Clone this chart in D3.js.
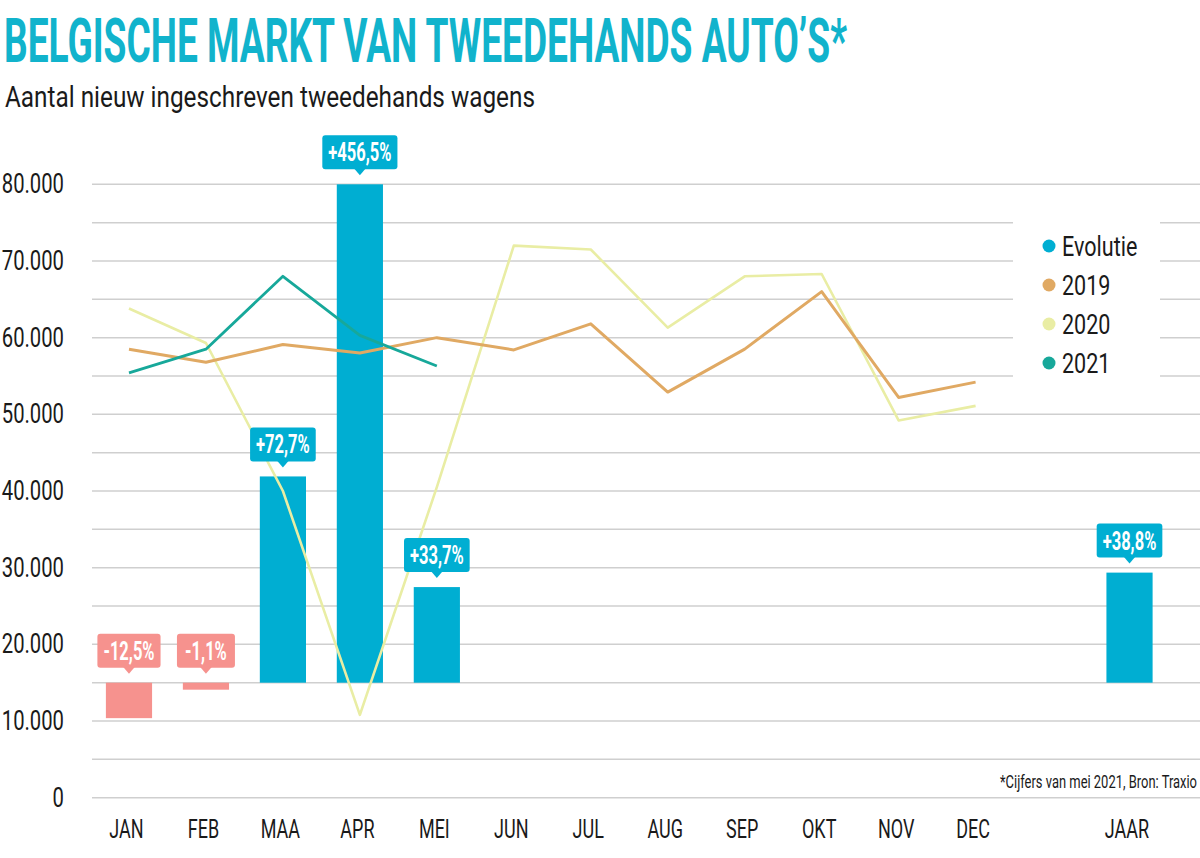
<!DOCTYPE html>
<html lang="nl">
<head>
<meta charset="utf-8">
<title>Belgische markt van tweedehands auto's</title>
<script src="https://cdn.jsdelivr.net/npm/d3@7/dist/d3.min.js"></script>
<style>
  html, body { margin: 0; padding: 0; background: #fff; }
  svg { display: block; }
</style>
</head>
<body>
<div id="chart"></div>
<script>
// --- data ---
const months = ["JAN", "FEB", "MAA", "APR", "MEI", "JUN", "JUL", "AUG", "SEP", "OKT", "NOV", "DEC"];
const slots = months.concat([" ", "JAAR"]); // empty slot between DEC and JAAR
const sales2019 = [58500, 56800, 59100, 58000, 60000, 58400, 61800, 52900, 58500, 66000, 52200, 54200];
const sales2020 = [63800, 59300, 40000, 10800, 40500, 72000, 71500, 61300, 68000, 68300, 49200, 51100];
const sales2021 = [55400, 58500, 68000, 60300, 56300];
const evoCats = ["JAN", "FEB", "MAA", "APR", "MEI", "JAAR"];
const evoValues = [-12.5, -1.1, 72.7, 456.5, 33.7, 38.8];
const yTicks = [0, 10000, 20000, 30000, 40000, 50000, 60000, 70000, 80000];
const legendLabels = ["Evolutie", "2019", "2020", "2021"];

(function () {
  const W = 1200, H = 858;
  const FONT = "Roboto, 'Open Sans', Arial, sans-serif";

  // --- colours ---
  const BLUE = "#00aed2";
  const PINK = "#f6928e";
  const C2019 = "#e0a963";
  const C2020 = "#e9eda4";
  const C2021 = "#17a89a";
  const GRID = "#cfcfcf";
  const INK = "#1a1a1a";
  const legendColors = [BLUE, C2019, C2020, C2021];

  const nl = d3.formatLocale({ decimal: ",", thousands: ".", grouping: [3], currency: ["€", ""], minus: "-" });
  const fmt = nl.format(",");
  const pct = (v) => (v > 0 ? "+" : "") + nl.format(".1f")(v) + "%";

  // squeeze text horizontally so it looks like the condensed face of the original
  const condense = (sel, k) =>
    sel.each(function () {
      const w = this.getComputedTextLength();
      d3.select(this).attr("textLength", w * k).attr("lengthAdjust", "spacingAndGlyphs");
    });

  const svg = d3.select("#chart").append("svg")
    .attr("width", W).attr("height", H)
    .style("font-family", FONT);

  svg.append("rect").attr("width", W).attr("height", H).attr("fill", "#fff");

  // --- scales ---
  const x = d3.scalePoint().domain(slots).range([90.5, 1168]).padding(0.5);
  const y = d3.scaleLinear().domain([0, 80000]).range([797.7, 184.3]).clamp(true);
  // evolution % mapped onto the count axis, bars start at 15.000
  const evo = d3.scaleLinear().domain([0, 100]).range([15000, 52000]);
  const barW = x.step() * 0.6;

  // --- title ---
  svg.append("text")
    .attr("x", 4).attr("y", 62)
    .attr("font-size", 62).attr("font-weight", "bold")
    .attr("fill", "#11b3cc")
    .attr("textLength", 843).attr("lengthAdjust", "spacingAndGlyphs")
    .text("BELGISCHE MARKT VAN TWEEDEHANDS AUTO’S*");

  svg.append("text")
    .attr("x", 5).attr("y", 107)
    .attr("font-size", 29).attr("fill", INK)
    .attr("textLength", 530).attr("lengthAdjust", "spacingAndGlyphs")
    .text("Aantal nieuw ingeschreven tweedehands wagens");

  // --- grid ---
  svg.append("g")
    .selectAll("line")
    .data(d3.range(0, 80001, 5000))
    .join("line")
    .attr("x1", 92).attr("x2", W)
    .attr("y1", (d) => y(d)).attr("y2", (d) => y(d))
    .attr("stroke", GRID).attr("stroke-width", 1.5);

  // --- y axis labels ---
  const yAxis = svg.append("g")
    .attr("transform", "translate(64,0)")
    .call(d3.axisLeft(y).tickValues(yTicks).tickSize(0).tickPadding(0).tickFormat((d) => fmt(d)));
  yAxis.select(".domain").remove();
  yAxis.selectAll("text")
    .attr("font-family", FONT).attr("font-size", 27).attr("fill", INK)
    .call(condense, 0.75);

  // --- x axis labels ---
  const xAxis = svg.append("g")
    .attr("transform", "translate(-3,838)")
    .call(d3.axisBottom(x).tickValues(months.concat(["JAAR"])).tickSize(0));
  xAxis.select(".domain").remove();
  xAxis.selectAll("text")
    .attr("y", 0).attr("dy", 0)
    .attr("font-family", FONT).attr("font-size", 25).attr("fill", INK)
    .call(condense, 0.72);

  // --- evolution bars ---
  const evoData = evoCats.map((c, i) => ({ cat: c, v: evoValues[i] }));
  const base = y(15000);
  svg.append("g")
    .selectAll("rect")
    .data(evoData)
    .join("rect")
    .attr("x", (d) => x(d.cat) - barW / 2)
    .attr("width", barW)
    .attr("y", (d) => Math.min(y(evo(d.v)), base))
    .attr("height", (d) => Math.max(Math.abs(base - y(evo(d.v))), 7))
    .attr("fill", (d) => (d.v < 0 ? PINK : BLUE));

  // --- lines ---
  const line = d3.line()
    .x((d, i) => x(months[i]))
    .y((d) => y(d));

  [[sales2020, C2020, 2.6], [sales2019, C2019, 3], [sales2021, C2021, 2.8]].forEach(([data, col, w]) => {
    svg.append("path")
      .datum(data)
      .attr("d", line)
      .attr("fill", "none")
      .attr("stroke", col)
      .attr("stroke-width", w)
      .attr("stroke-linejoin", "round");
  });

  // --- callout labels ---
  const callouts = svg.append("g")
    .selectAll("g")
    .data(evoData)
    .join("g")
    .attr("transform", (d) => `translate(${x(d.cat)},${Math.min(y(evo(d.v)), base) - 9})`);

  callouts.each(function (d) {
    const g = d3.select(this);
    const col = d.v < 0 ? PINK : BLUE;
    const t = g.append("text")
      .attr("y", -23).attr("dy", "0.36em")
      .attr("text-anchor", "middle")
      .attr("font-size", 25).attr("font-weight", "bold")
      .attr("fill", "#fff")
      .text(pct(d.v))
      .call(condense, 0.66);
    const tw = +t.attr("textLength");
    const bw = Math.max(58, tw + 12);
    g.insert("rect", "text")
      .attr("x", -bw / 2).attr("y", -40)
      .attr("width", bw).attr("height", 34)
      .attr("rx", 3)
      .attr("fill", col);
    g.insert("path", "text")
      .attr("d", "M-6,-7 L0,0 L6,-7 Z")
      .attr("fill", col);
  });

  // --- legend ---
  svg.append("rect")
    .attr("x", 1013).attr("y", 210)
    .attr("width", 147).attr("height", 185)
    .attr("fill", "#fff");

  const legend = svg.append("g")
    .selectAll("g")
    .data(legendLabels)
    .join("g")
    .attr("transform", (d, i) => `translate(1049,${246 + i * 39})`);
  legend.append("circle")
    .attr("r", 6.5)
    .attr("fill", (d, i) => legendColors[i]);
  legend.append("text")
    .attr("x", 13).attr("dy", "0.36em")
    .attr("font-size", 28).attr("fill", INK)
    .text((d) => d)
    .call(condense, 0.77);

  // --- footnote ---
  svg.append("text")
    .attr("x", 1197).attr("y", 788)
    .attr("text-anchor", "end")
    .attr("font-size", 18).attr("fill", INK)
    .attr("textLength", 197).attr("lengthAdjust", "spacingAndGlyphs")
    .text("*Cijfers van mei 2021, Bron: Traxio");
})();
</script>
</body>
</html>
